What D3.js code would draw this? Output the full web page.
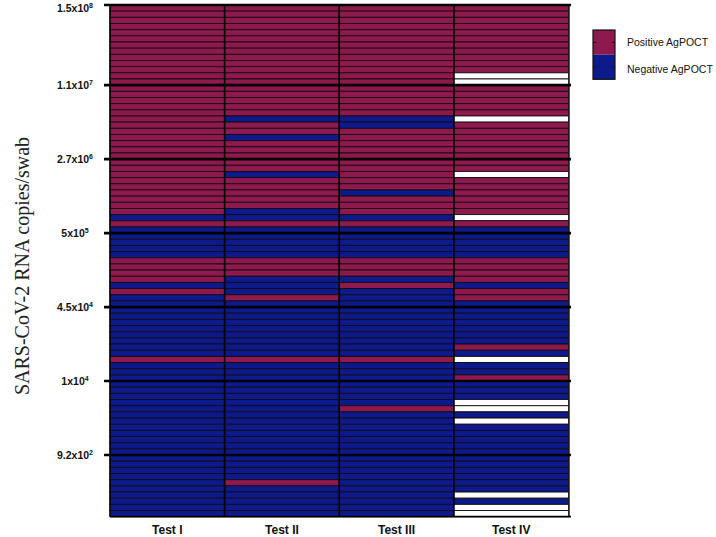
<!DOCTYPE html>
<html>
<head>
<meta charset="utf-8">
<script src="https://cdn.jsdelivr.net/npm/d3@7"></script>
<style>
  html, body { margin: 0; padding: 0; background: #fff; }
  svg { display: block; }
</style>
</head>
<body>
<svg id="chart" width="716" height="537"></svg>
<script>
// ---- DATA ----
const tests = ["Test I", "Test II", "Test III", "Test IV"];
// Per test: results for each sample row, grouped by concentration section.
// P = Positive AgPOCT, N = Negative AgPOCT, W = not tested (white)
const testI   = ["PPPPPPPPPPPPP", "PPPPPPPPPPPP", "PPPPPPPPPNPN", "NNNNPPPPNPNN", "NNNNNNNNPNNN", "NNNNNNNNNNNN", "NNNNNNNNNN"];
const testII  = ["PPPPPPPPPPPPP", "PPPPPNPPNPPP", "PPNPPPPPNNPN", "NNNNPPPNNNPN", "NNNNNNNNPNNN", "NNNNNNNNNNNN", "NNNNPNNNNN"];
const testIII = ["PPPPPPPPPPPPP", "PPPPPNNPPPPP", "PPPPPNPPPNPN", "NNNNPPPNPNNN", "NNNNNNNNPNNN", "NNNNPNNNNNNN", "NNNNNNNNNN"];
const testIV  = ["PPPPPPPPPPPWW", "PPPPPWPPPPPP", "PPWPPPPPPWPN", "NNNNPPPPNPPN", "NNNNNNPNWNNP", "NNNWWNWNNNNN", "NNNNNNWNWW"];
const tickBase = ["1.5x10", "1.1x10", "2.7x10", "5x10", "4.5x10", "1x10", "9.2x10"];
const tickExp  = ["8", "7", "6", "5", "4", "4", "2"];
const legendLabels = ["Positive AgPOCT", "Negative AgPOCT"];

// ---- BUILD ----
const columns = [testI, testII, testIII, testIV];
const sectionSizes = testI.map(s => s.length);
const nRows = d3.sum(sectionSizes);
const boundaries = [0];
sectionSizes.forEach(s => boundaries.push(boundaries[boundaries.length - 1] + s));

const cells = [];
columns.forEach((col, ci) => {
  col.join("").split("").forEach((v, ri) => cells.push({ test: tests[ci], row: ri, v }));
});

const colors = { P: "#8e1a4d", N: "#0c1a8c", W: "#ffffff" };

const svg = d3.select("#chart");
const x = d3.scaleBand().domain(tests).range([110, 568.5]);
const y = d3.scaleBand().domain(d3.range(nRows)).range([5, 516.7]);
const yEdge = i => (i >= nRows ? y.range()[1] : y(i));

// cells
svg.append("g").selectAll("rect").data(cells).join("rect")
  .attr("x", d => x(d.test))
  .attr("y", d => y(d.row))
  .attr("width", x.bandwidth())
  .attr("height", y.bandwidth())
  .attr("fill", d => colors[d.v])
  .attr("stroke", "#150a12")
  .attr("stroke-width", 0.9);

// column dividers
svg.append("g").selectAll("line").data(tests.slice(1)).join("line")
  .attr("x1", d => x(d)).attr("x2", d => x(d))
  .attr("y1", y.range()[0]).attr("y2", y.range()[1])
  .attr("stroke", "#000").attr("stroke-width", 1.6);

// left axis line and right border
svg.append("line").attr("x1", 110).attr("x2", 110)
  .attr("y1", y.range()[0]).attr("y2", y.range()[1])
  .attr("stroke", "#000").attr("stroke-width", 1.4);
svg.append("line").attr("x1", 569.5).attr("x2", 569.5)
  .attr("y1", y.range()[0]).attr("y2", y.range()[1])
  .attr("stroke", "#555").attr("stroke-width", 1);

// section lines (major ticks)
svg.append("g").selectAll("line").data(boundaries).join("line")
  .attr("x1", (d, i) => i === boundaries.length - 1 ? 110 : 104)
  .attr("x2", 571)
  .attr("y1", d => yEdge(d)).attr("y2", d => yEdge(d))
  .attr("stroke", "#000")
  .attr("stroke-width", (d, i) => i === boundaries.length - 1 ? 1.8 : 2.6);

// tick labels
const tl = svg.append("g").selectAll("text").data(tickBase).join("text")
  .attr("x", 75)
  .attr("y", (d, i) => yEdge(boundaries[i]) + (i === 0 ? 3 : 0))
  .attr("dy", "0.35em")
  .attr("text-anchor", "middle")
  .attr("font-family", "Liberation Sans, Arial, sans-serif")
  .attr("font-weight", "bold")
  .attr("font-size", 10.5)
  .attr("fill", "#111");
tl.append("tspan").text(d => d);
tl.append("tspan").attr("font-size", 7).attr("dy", -4).text((d, i) => tickExp[i]);

// x labels
svg.append("g").selectAll("text").data(tests).join("text")
  .attr("x", d => x(d) + x.bandwidth() / 2)
  .attr("y", 534)
  .attr("text-anchor", "middle")
  .attr("font-family", "Liberation Sans, Arial, sans-serif")
  .attr("font-weight", "bold")
  .attr("font-size", 12)
  .attr("fill", "#111")
  .text(d => d);

// y title
svg.append("text")
  .attr("transform", "translate(29,266) rotate(-90)")
  .attr("text-anchor", "middle")
  .attr("font-family", "Liberation Serif, Times New Roman, serif")
  .attr("font-size", 20)
  .attr("fill", "#222")
  .text("SARS-CoV-2 RNA copies/swab");

// legend
const lg = svg.append("g");
const legY = d3.scaleBand().domain(legendLabels).range([30, 79.3]);
lg.selectAll("rect").data(legendLabels).join("rect")
  .attr("x", 593).attr("y", d => legY(d))
  .attr("width", 22).attr("height", legY.bandwidth())
  .attr("fill", (d, i) => i === 0 ? colors.P : colors.N);
lg.append("rect").attr("x", 593).attr("y", 30).attr("width", 22).attr("height", 49.3)
  .attr("fill", "none").attr("stroke", "#111").attr("stroke-width", 1.2);
lg.selectAll("line.tk").data(legendLabels).join("line").attr("class", "tk")
  .attr("x1", 593).attr("x2", 596)
  .attr("y1", d => legY(d) + legY.bandwidth() / 2).attr("y2", d => legY(d) + legY.bandwidth() / 2)
  .attr("stroke", "#111");
lg.selectAll("line.tk2").data(legendLabels).join("line").attr("class", "tk2")
  .attr("x1", 612).attr("x2", 615)
  .attr("y1", d => legY(d) + legY.bandwidth() / 2).attr("y2", d => legY(d) + legY.bandwidth() / 2)
  .attr("stroke", "#111");
lg.selectAll("text").data(legendLabels).join("text")
  .attr("x", 627)
  .attr("y", (d, i) => legY(d) + legY.bandwidth() / 2 + (i === 0 ? 0 : 2))
  .attr("dy", "0.35em")
  .attr("font-family", "Liberation Sans, Arial, sans-serif")
  .attr("font-size", 10.5)
  .attr("fill", "#111")
  .text(d => d);
</script>
</body>
</html>
